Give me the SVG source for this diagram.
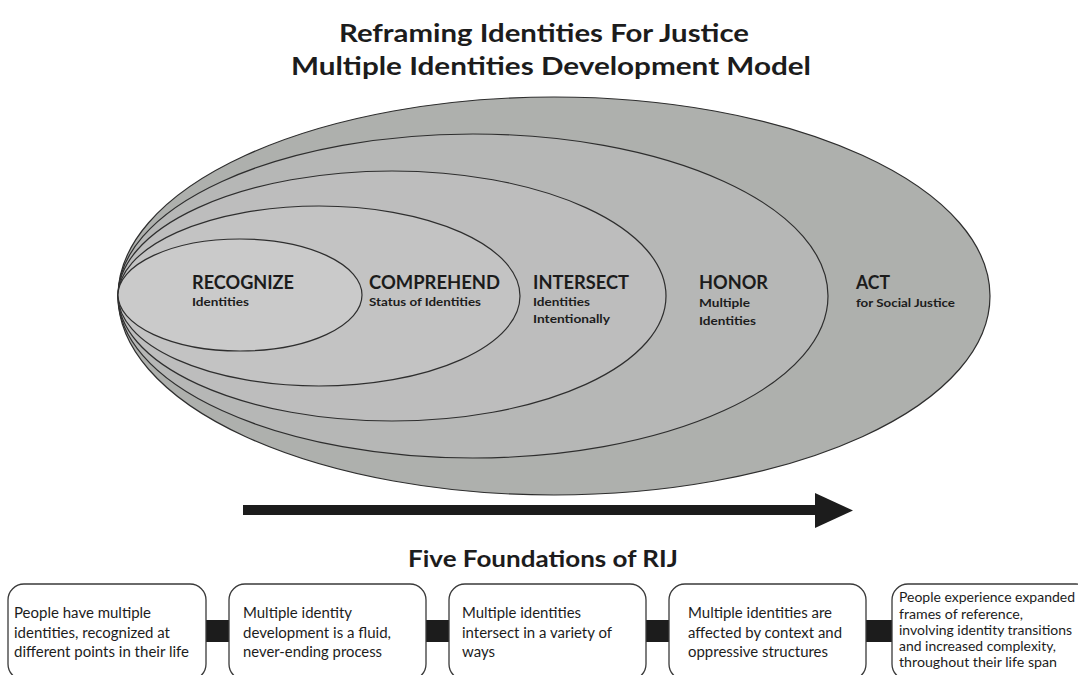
<svg xmlns="http://www.w3.org/2000/svg" width="1078" height="675" viewBox="0 0 1078 675">
<style>
  text { font-family: Lato, "Open Sans", "Liberation Sans", sans-serif; fill: #1c1c1c; }
  .title { font-size: 24px; font-weight: bold; }
  .ring { stroke: #2e2e2e; stroke-width: 1.2; }
  .stage { font-size: 18px; font-weight: bold; }
  .sub { font-size: 12px; font-weight: bold; }
  .box { fill: #ffffff; stroke: #3a3a3a; stroke-width: 1.3; }
  .bt { font-size: 14.5px; }
  .bt5 { font-size: 13.5px; }
  .link { fill: #1c1c1c; }
</style>
<rect width="1078" height="675" fill="#ffffff"/>
<g id="title">
  <text class="title" x="339" y="42" textLength="410" lengthAdjust="spacingAndGlyphs">Reframing Identities For Justice</text>
  <text class="title" x="291" y="75" textLength="520" lengthAdjust="spacingAndGlyphs">Multiple Identities Development Model</text>
</g>
<g id="act">
  <ellipse class="ring" cx="554" cy="296" rx="436" ry="199" fill="#aeb0ad"/>
  <text class="stage" x="856" y="289" textLength="34" lengthAdjust="spacingAndGlyphs">ACT</text>
  <text class="sub" x="856" y="307" textLength="99" lengthAdjust="spacingAndGlyphs">for Social Justice</text>
</g>
<g id="honor">
  <ellipse class="ring" cx="473" cy="296" rx="355" ry="162" fill="#b6b7b6"/>
  <text class="stage" x="699" y="289" textLength="69" lengthAdjust="spacingAndGlyphs">HONOR</text>
  <text class="sub" x="699" y="307" textLength="51" lengthAdjust="spacingAndGlyphs">Multiple</text>
  <text class="sub" x="699" y="325" textLength="57" lengthAdjust="spacingAndGlyphs">Identities</text>
</g>
<g id="intersect">
  <ellipse class="ring" cx="392" cy="296" rx="274" ry="125" fill="#bdbdbd"/>
  <text class="stage" x="533" y="289" textLength="96" lengthAdjust="spacingAndGlyphs">INTERSECT</text>
  <text class="sub" x="533" y="306" textLength="57" lengthAdjust="spacingAndGlyphs">Identities</text>
  <text class="sub" x="533" y="323" textLength="77" lengthAdjust="spacingAndGlyphs">Intentionally</text>
</g>
<g id="comprehend">
  <ellipse class="ring" cx="319" cy="296" rx="201" ry="90" fill="#c3c3c3"/>
  <text class="stage" x="369" y="289" textLength="131" lengthAdjust="spacingAndGlyphs">COMPREHEND</text>
  <text class="sub" x="369" y="306" textLength="112" lengthAdjust="spacingAndGlyphs">Status of Identities</text>
</g>
<g id="recognize">
  <ellipse class="ring" cx="240" cy="295" rx="122" ry="56" fill="#cacaca"/>
  <text class="stage" x="192" y="289" textLength="102" lengthAdjust="spacingAndGlyphs">RECOGNIZE</text>
  <text class="sub" x="192" y="306" textLength="57" lengthAdjust="spacingAndGlyphs">Identities</text>
</g>
<g id="progress-arrow">
  <rect x="243" y="505" width="574" height="10" fill="#1c1c1c"/>
  <polygon points="815,493 853,510.5 815,528" fill="#1c1c1c"/>
</g>
<g id="foundations-title">
  <text class="title" x="408" y="567" style="font-size:23px" textLength="270" lengthAdjust="spacingAndGlyphs">Five Foundations of RIJ</text>
</g>
<g id="connectors">
  <rect class="link" x="206" y="620" width="23" height="22"/>
  <rect class="link" x="426" y="620" width="23" height="22"/>
  <rect class="link" x="646" y="620" width="23" height="22"/>
  <rect class="link" x="866" y="620" width="26" height="22"/>
</g>
<g id="foundation-1">
  <rect class="box" x="8" y="584" width="198" height="96" rx="16"/>
  <text class="bt" x="14" y="618" textLength="137" lengthAdjust="spacingAndGlyphs">People have multiple</text>
  <text class="bt" x="14" y="637.5" textLength="156" lengthAdjust="spacingAndGlyphs">identities, recognized at</text>
  <text class="bt" x="14" y="657" textLength="175" lengthAdjust="spacingAndGlyphs">different points in their life</text>
</g>
<g id="foundation-2">
  <rect class="box" x="229" y="584" width="197" height="96" rx="16"/>
  <text class="bt" x="243" y="618" textLength="109" lengthAdjust="spacingAndGlyphs">Multiple identity</text>
  <text class="bt" x="243" y="637.5" textLength="148" lengthAdjust="spacingAndGlyphs">development is a fluid,</text>
  <text class="bt" x="243" y="657" textLength="139" lengthAdjust="spacingAndGlyphs">never-ending process</text>
</g>
<g id="foundation-3">
  <rect class="box" x="449" y="584" width="197" height="96" rx="16"/>
  <text class="bt" x="462" y="618" textLength="119" lengthAdjust="spacingAndGlyphs">Multiple identities</text>
  <text class="bt" x="462" y="637.5" textLength="150" lengthAdjust="spacingAndGlyphs">intersect in a variety of</text>
  <text class="bt" x="462" y="657" textLength="33" lengthAdjust="spacingAndGlyphs">ways</text>
</g>
<g id="foundation-4">
  <rect class="box" x="669" y="584" width="197" height="96" rx="16"/>
  <text class="bt" x="688" y="618" textLength="144" lengthAdjust="spacingAndGlyphs">Multiple identities are</text>
  <text class="bt" x="688" y="637.5" textLength="154" lengthAdjust="spacingAndGlyphs">affected by context and</text>
  <text class="bt" x="688" y="657" textLength="140" lengthAdjust="spacingAndGlyphs">oppressive structures</text>
</g>
<g id="foundation-5">
  <rect class="box" x="892" y="584" width="200" height="96" rx="16"/>
  <text class="bt5" x="899" y="602" textLength="176" lengthAdjust="spacingAndGlyphs">People experience expanded</text>
  <text class="bt5" x="899" y="618.5" textLength="124" lengthAdjust="spacingAndGlyphs">frames of reference,</text>
  <text class="bt5" x="899" y="634.8" textLength="173" lengthAdjust="spacingAndGlyphs">involving identity transitions</text>
  <text class="bt5" x="899" y="651" textLength="157" lengthAdjust="spacingAndGlyphs">and increased complexity,</text>
  <text class="bt5" x="899" y="667" textLength="158" lengthAdjust="spacingAndGlyphs">throughout their life span</text>
</g>
</svg>
